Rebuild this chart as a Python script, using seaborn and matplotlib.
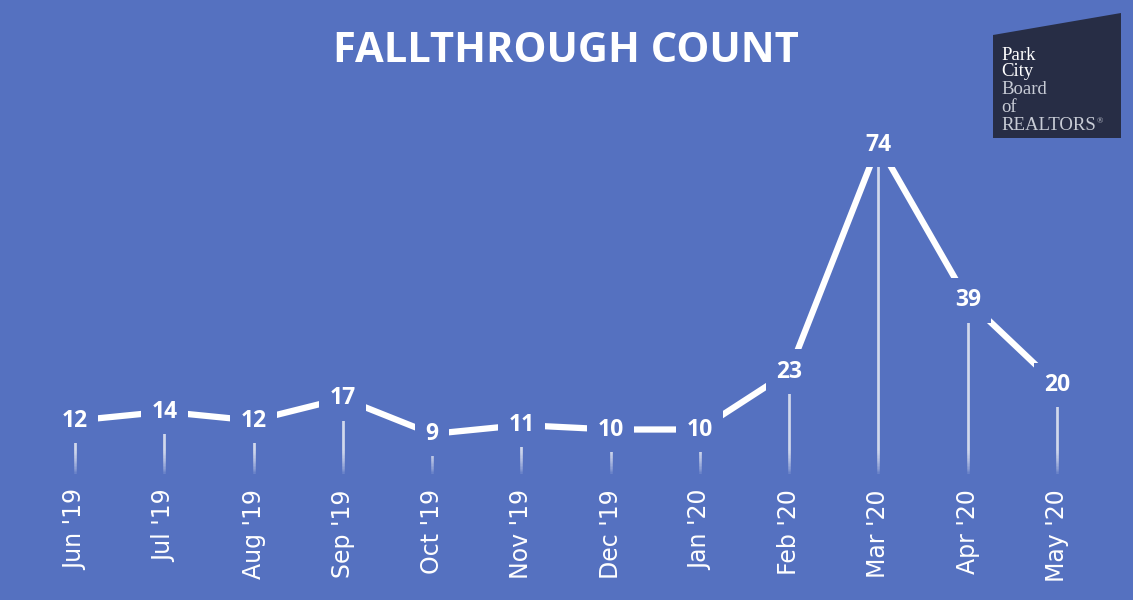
import numpy as np
import pandas as pd
import matplotlib
matplotlib.use("Agg")
import matplotlib.pyplot as plt
import seaborn as sns
from matplotlib.collections import LineCollection
from matplotlib.patches import Polygon

months = ["Jun '19", "Jul '19", "Aug '19", "Sep '19", "Oct '19", "Nov '19",
          "Dec '19", "Jan '20", "Feb '20", "Mar '20", "Apr '20", "May '20"]
counts = [12, 14, 12, 17, 9, 11, 10, 10, 23, 74, 39, 20]
title = "FALLTHROUGH COUNT"
logo_lines = ["Park", "City", "Board", "of", "REALTORS"]

BG = "#5571C0"
sns.set_theme(style="white")
plt.rcParams["font.family"] = ["Open Sans", "DejaVu Sans"]

df = pd.DataFrame({"idx": np.arange(len(months)), "month": months, "count": counts})

W, H = 1133, 600
fig = plt.figure(figsize=(W / 100, H / 100), dpi=100, facecolor=BG)
ax_left, ax_right = 30.4, 1101.6
ax_top_px, ax_bot_px = 118.0, 474.0
ax = fig.add_axes([ax_left / W, 1 - ax_bot_px / H, (ax_right - ax_left) / W, (ax_bot_px - ax_top_px) / H])
ax.set_facecolor(BG)

# drop lines: overlapping translucent lines build a fade toward the bottom
fade_h = 6.0
nfade = 10
segs = []
for x, v in zip(df["idx"], df["count"]):
    for k in range(nfade):
        segs.append([(x, fade_h * k / nfade), (x, v)])
lc = LineCollection(segs, colors=[(1, 1, 1, 0.13)] * len(segs), linewidths=1.8,
                    zorder=1, capstyle="butt")
ax.add_collection(lc)

sns.lineplot(data=df, x="idx", y="count", ax=ax, color="white", linewidth=4.5,
             sort=False, zorder=2, legend=False)

for x, v in zip(df["idx"], df["count"]):
    ax.text(x, v, str(v), ha="center", va="center", color="white", fontsize=16.5,
            fontweight="bold", zorder=3,
            bbox=dict(boxstyle="square,pad=0.45", facecolor=BG, edgecolor="none"))

ax.set_xlim(-0.5, len(months) - 0.5)
ax.set_ylim(0, 80)
ax.set_xticks(df["idx"])
ax.set_xticklabels(months, rotation=90, color="white", fontsize=17,
                   family="DejaVu Sans")
ax.tick_params(axis="x", length=0, pad=11)
ax.set_yticks([])
ax.set_xlabel("")
ax.set_ylabel("")
for s in ax.spines.values():
    s.set_visible(False)

fig.text(566 / W, 1 - 52 / H, title, ha="center", va="center", color="white",
         fontsize=30, fontweight="bold")

# logo
poly = Polygon([(993 / W, 1 - 35 / H), (1121 / W, 1 - 13 / H),
                (1121 / W, 1 - 138 / H), (993 / W, 1 - 138 / H)],
               closed=True, transform=fig.transFigure, facecolor="#272D45",
               edgecolor="none")
fig.add_artist(poly)
ys_logo = [55, 72, 90, 107, 125]
last = None
for i, (t, yy) in enumerate(zip(logo_lines, ys_logo)):
    last = fig.text(1001 / W, 1 - yy / H, t, ha="left", va="center",
                    color="white" if i < 2 else "#C8CCD6", fontsize=13.5,
                    family="Liberation Serif")
fig.canvas.draw()
bb = last.get_window_extent()
fig.text((bb.x1 + 0.5) / W, 1 - 121 / H, "®", ha="left", va="center", color="#C8CCD6",
         fontsize=6, family="Liberation Serif")

fig.savefig("out.png", dpi=100, facecolor=BG)
